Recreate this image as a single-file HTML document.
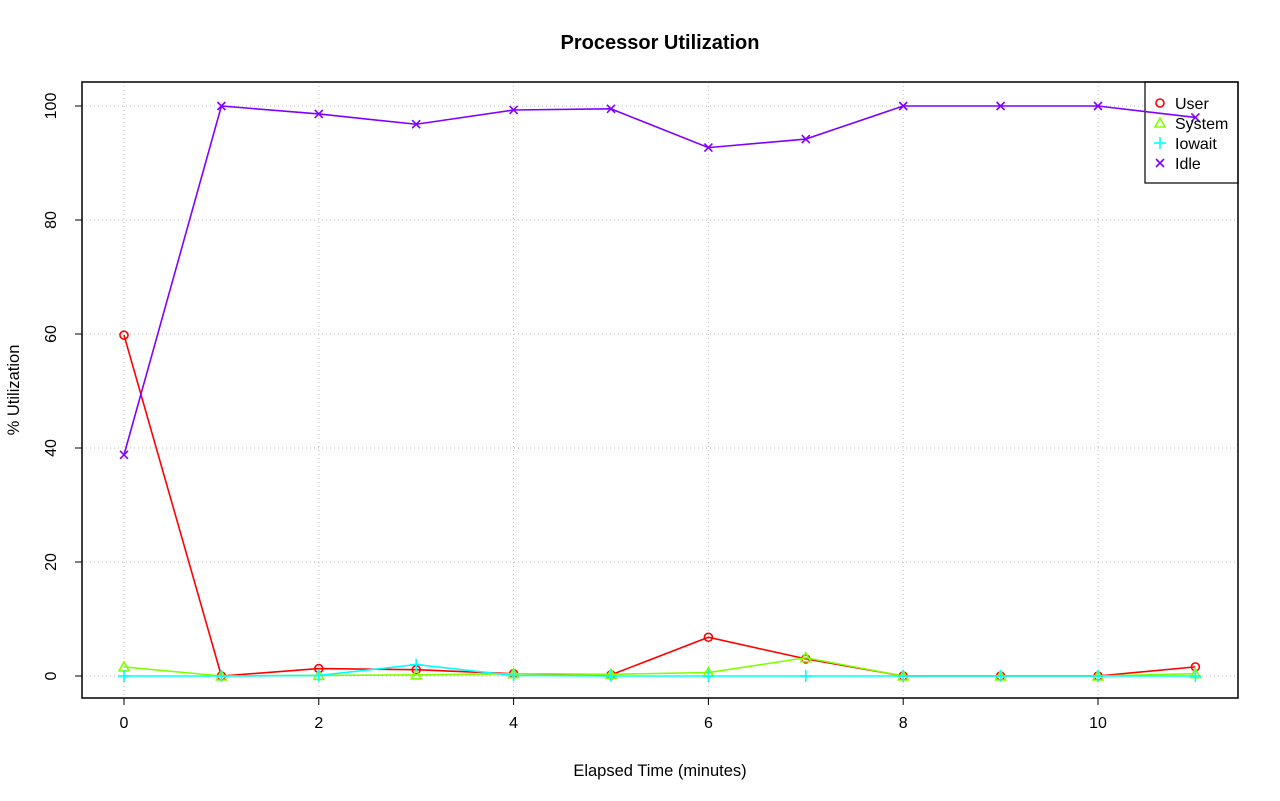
<!DOCTYPE html>
<html><head><meta charset="utf-8"><style>body{margin:0;background:#fff}svg{display:block;font-family:"Liberation Sans",sans-serif}</style></head>
<body>
<svg id="c" width="1280" height="801"></svg>
<script>
const categories=[0,1,2,3,4,5,6,7,8,9,10,11];
const userVals=[59.8,0,1.3,1.1,0.4,0.2,6.8,3.0,0,0,0,1.6];
const systemVals=[1.6,0,0.1,0.2,0.4,0.3,0.6,3.2,0,0,0,0.4];
const iowaitVals=[0,0,0.1,2.0,0.1,0,0,0,0,0,0,0];
const idleVals=[38.8,100,98.6,96.8,99.3,99.5,92.7,94.2,100,100,100,98.0];
const xTicks=[0,2,4,6,8,10];
const yTicks=[0,20,40,60,80,100];
const NS="http://www.w3.org/2000/svg",svg=document.getElementById('c');
const X=v=>124+v*97.4, Y=v=>676-v*5.7;
function el(t,a,p){const e=document.createElementNS(NS,t);for(const k in a)e.setAttribute(k,a[k]);(p||svg).appendChild(e);return e;}
const title=el('text',{x:660,y:49,'text-anchor':'middle','font-size':20,'font-weight':'bold'});title.textContent='Processor Utilization';


const grid=el('g',{stroke:'#bbb','stroke-dasharray':'1,3','stroke-width':1});


xTicks.forEach(t=>el('line',{x1:X(t),x2:X(t),y1:82,y2:698},grid));
yTicks.forEach(t=>el('line',{x1:82,x2:1238,y1:Y(t),y2:Y(t)},grid));
const ax=el('g',{'font-size':16});


xTicks.forEach(t=>{el('line',{x1:X(t),x2:X(t),y1:698,y2:705,stroke:'#000'},ax);const s=el('text',{x:X(t),y:728,'text-anchor':'middle'},ax);s.textContent=t;});
yTicks.forEach(t=>{el('line',{x1:75,x2:82,y1:Y(t),y2:Y(t),stroke:'#000'},ax);const s=el('text',{x:0,y:0,'text-anchor':'middle',transform:`translate(56,${Y(t)}) rotate(-90)`},ax);s.textContent=t;});
const xl=el('text',{x:660,y:776,'text-anchor':'middle','font-size':16.5});xl.textContent='Elapsed Time (minutes)';


const yl=el('text',{x:0,y:0,'text-anchor':'middle','font-size':16.5,transform:'translate(19,390) rotate(-90)'});yl.textContent='% Utilization';


function marker(g,type,x,y,c){
 if(type==='o')el('circle',{cx:x,cy:y,r:4,fill:'none',stroke:c,'stroke-width':1.6},g);
 else if(type==='t')el('polygon',{points:`${x},${y-5} ${x-5},${y+4} ${x+5},${y+4}`,fill:'none',stroke:c,'stroke-width':1.6},g);
 else if(type==='p'){el('line',{x1:x-6,x2:x+6,y1:y,y2:y,stroke:c,'stroke-width':1.6},g);el('line',{x1:x,x2:x,y1:y-6,y2:y+6,stroke:c,'stroke-width':1.6},g);}
 else{el('line',{x1:x-4,x2:x+4,y1:y-4,y2:y+4,stroke:c,'stroke-width':1.6},g);el('line',{x1:x-4,x2:x+4,y1:y+4,y2:y-4,stroke:c,'stroke-width':1.6},g);}
}
const series=[['user',userVals,'#ff0000','o','User'],['system',systemVals,'#80ff00','t','System'],['iowait',iowaitVals,'#00ffff','p','Iowait'],['idle',idleVals,'#8000ff','x','Idle']];
const lg=el('g',{'font-size':16});


el('rect',{x:1145,y:82,width:93,height:101,fill:'#fff',stroke:'#000','stroke-width':1.2},lg);
series.forEach(([n,vals,c,m])=>{
 const g=el('g',{});
 
 
 el('polyline',{points:vals.map((v,i)=>X(categories[i])+','+Y(v)).join(' '),fill:'none',stroke:c,'stroke-width':1.6},g);
 vals.forEach((v,i)=>marker(g,m,X(categories[i]),Y(v),c));
});
const box=el('rect',{x:82,y:82,width:1156,height:616,fill:'none',stroke:'#000','stroke-width':1.5});


const lg2=el('g',{'font-size':16});


series.forEach(([n,vals,c,m,label],i)=>{
 const e=el('g',{},lg2);
 
 
 const y=103+i*20;marker(e,m,1160,y,c);
 const t=el('text',{x:1175,y:y+6},e);t.textContent=label;
});
</script>
</body></html>
